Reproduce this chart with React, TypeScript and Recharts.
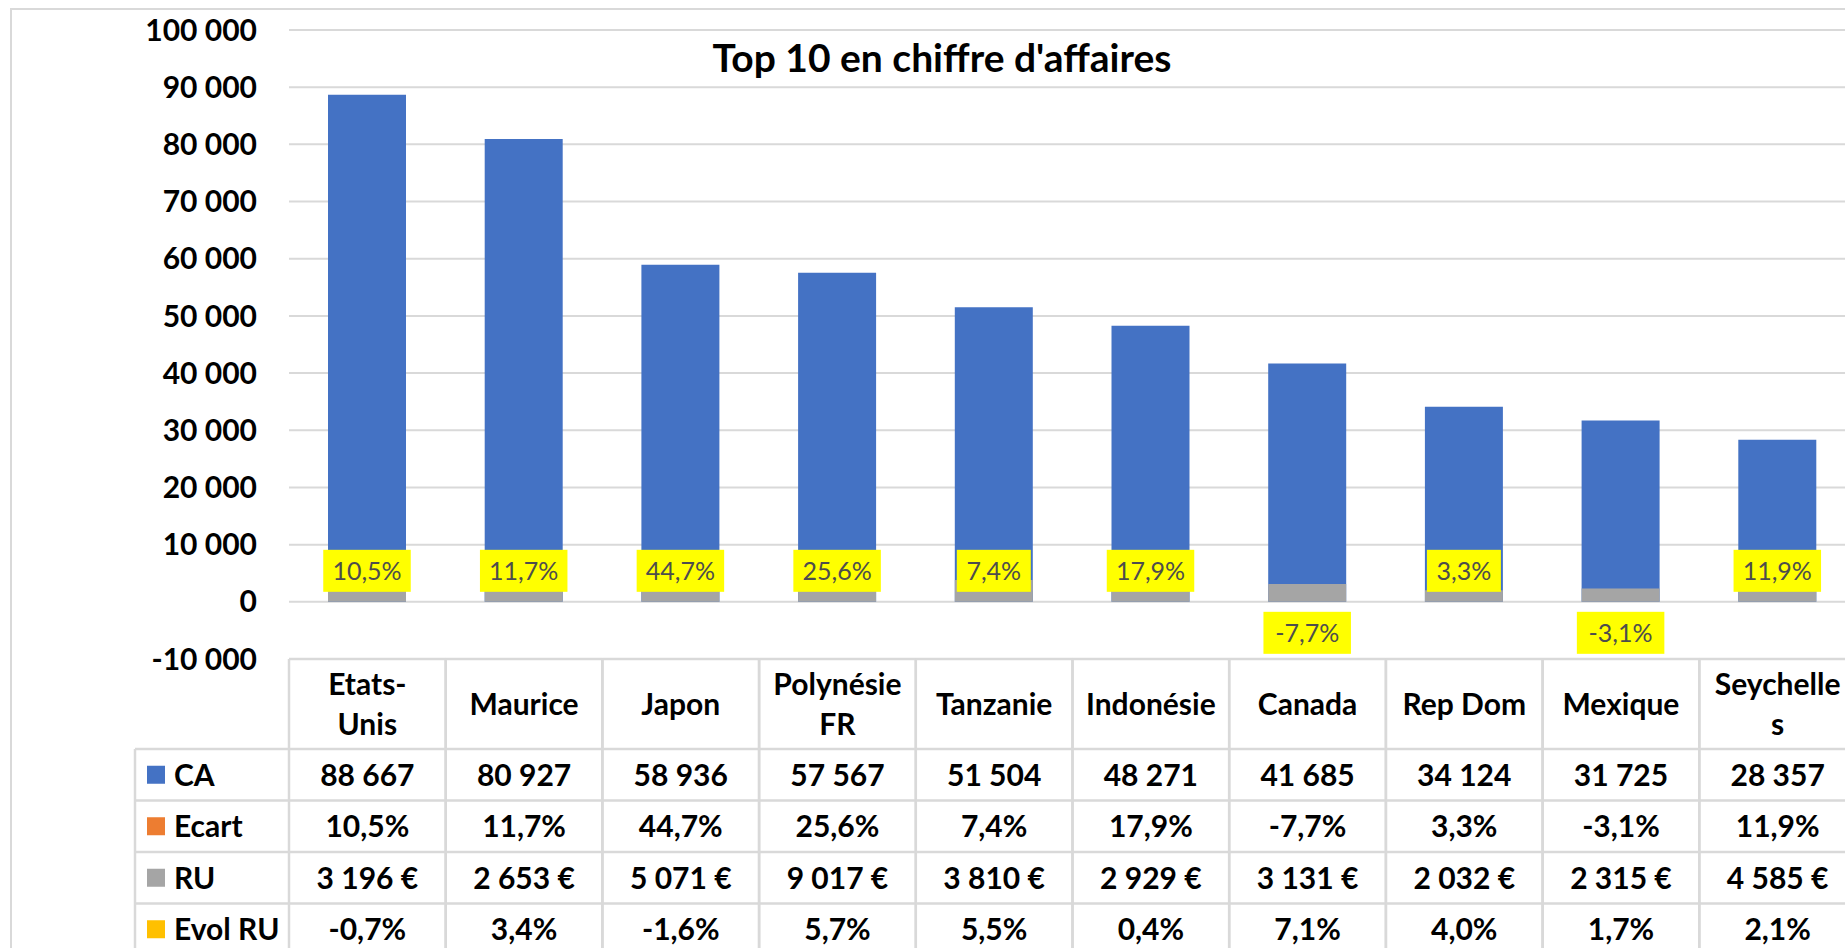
import React from 'react';
import { BarChart, Bar, XAxis, YAxis, CartesianGrid, LabelList } from 'recharts';

const COUNTRIES = ['Etats-Unis', 'Maurice', 'Japon', 'Polynésie FR', 'Tanzanie', 'Indonésie', 'Canada', 'Rep Dom', 'Mexique', 'Seychelles'];
// header cells as Excel wrapped them
const HEADER_LINES = [['Etats-', 'Unis'], ['Maurice'], ['Japon'], ['Polynésie', 'FR'], ['Tanzanie'], ['Indonésie'], ['Canada'], ['Rep Dom'], ['Mexique'], ['Seychelle', 's']];
const CA = [88667, 80927, 58936, 57567, 51504, 48271, 41685, 34124, 31725, 28357];
const ECART = [0.105, 0.117, 0.447, 0.256, 0.074, 0.179, -0.077, 0.033, -0.031, 0.119];
const RU = [3196, 2653, 5071, 9017, 3810, 2929, 3131, 2032, 2315, 4585];
const EVOL_RU = [-0.007, 0.034, -0.016, 0.057, 0.055, 0.004, 0.071, 0.04, 0.017, 0.021];
const Y_TICKS = [-10000, 0, 10000, 20000, 30000, 40000, 50000, 60000, 70000, 80000, 90000, 100000];

const SERIES = [
  { key: 'ca', label: 'CA', color: '#4472C4' },
  { key: 'ecart', label: 'Ecart', color: '#ED7D31' },
  { key: 'ru', label: 'RU', color: '#A5A5A5' },
  { key: 'evol', label: 'Evol RU', color: '#FFC000' },
];

const data = COUNTRIES.map((name, i) => ({
  name,
  ca: CA[i],
  ecart: ECART[i],
  ru: RU[i],
  evol: EVOL_RU[i],
}));

// layout
const CHART_W = 1880;
const CHART_H = 960;
const PLOT_LEFT = 289;
const PLOT_RIGHT = 1856;
const PLOT_TOP = 30;
const PLOT_BOTTOM = 659;
const BAND = (PLOT_RIGHT - PLOT_LEFT) / COUNTRIES.length;
const HEADER_H = 90;
const ROW_H = 51.5;
const LEGEND_X = 135;
const LINE = '#d9d9d9';
const FONT = 'Lato, "Open Sans", sans-serif';

const fmtInt = (n: number) => String(Math.round(n)).replace(/\B(?=(\d{3})+(?!\d))/g, ' ');
const fmtPct = (v: number) => (v * 100).toFixed(1).replace('.', ',') + '%';

const rowText = (key: string, i: number) => {
  if (key === 'ca') return fmtInt(CA[i]);
  if (key === 'ecart') return fmtPct(ECART[i]);
  if (key === 'ru') return fmtInt(RU[i]) + ' €';
  return fmtPct(EVOL_RU[i]);
};

const TableColumn = (props: any) => {
  const { x, payload } = props;
  const i = payload.index;
  const top = PLOT_BOTTOM;
  const left = x - BAND / 2;
  const right = x + BAND / 2;
  const bottom = top + HEADER_H + SERIES.length * ROW_H;
  const lines = HEADER_LINES[i];
  const headerMid = top + HEADER_H / 2;
  const lineStep = 40;
  return (
    <g>
      <line x1={left} x2={left} y1={top} y2={bottom} stroke={LINE} strokeWidth={2.5} />
      <line x1={right} x2={right} y1={top} y2={bottom} stroke={LINE} strokeWidth={2.5} />
      <line x1={left} x2={right} y1={top} y2={top} stroke={LINE} strokeWidth={2.5} />
      {SERIES.map((s, k) => (
        <line key={s.key} x1={left} x2={right} y1={top + HEADER_H + k * ROW_H} y2={top + HEADER_H + k * ROW_H} stroke={LINE} strokeWidth={2.5} />
      ))}
      {lines.map((t, k) => (
        <text
          key={k}
          x={x}
          y={headerMid + (k - (lines.length - 1) / 2) * lineStep + 11}
          textAnchor="middle"
          fontSize={30}
          fontWeight={700}
          fill="#000"
        >
          {t}
        </text>
      ))}
      {SERIES.map((s, k) => (
        <text
          key={s.key}
          x={x}
          y={top + HEADER_H + k * ROW_H + ROW_H / 2 + 11}
          textAnchor="middle"
          fontSize={30}
          fontWeight={700}
          fill="#000"
        >
          {rowText(s.key, i)}
        </text>
      ))}
      {i === 0 && (
        <g>
          <line x1={LEGEND_X} x2={left} y1={top + HEADER_H} y2={top + HEADER_H} stroke={LINE} strokeWidth={2.5} />
          <line x1={LEGEND_X} x2={LEGEND_X} y1={top + HEADER_H} y2={bottom} stroke={LINE} strokeWidth={2.5} />
          {SERIES.map((s, k) => {
            const rowTop = top + HEADER_H + k * ROW_H;
            return (
              <g key={s.key}>
                <line x1={LEGEND_X} x2={left} y1={rowTop + ROW_H} y2={rowTop + ROW_H} stroke={LINE} strokeWidth={2.5} />
                <rect x={147} y={rowTop + ROW_H / 2 - 9} width={18} height={18} fill={s.color} />
                <text x={174} y={rowTop + ROW_H / 2 + 11} fontSize={30} fontWeight={700} fill="#000">
                  {s.label}
                </text>
              </g>
            );
          })}
        </g>
      )}
    </g>
  );
};

const EcartLabel = (props: any) => {
  const { x, y, width, height, value } = props;
  if (x == null || value == null) return null;
  const zeroY = value >= 0 ? y + height : y;
  const txt = fmtPct(value);
  const w = txt.length * 13.5 + 20;
  const h = 42;
  const cx = x + width / 2;
  const boxTop = value >= 0 ? zeroY - 10 - h : zeroY + 10;
  return (
    <g>
      <rect x={cx - w / 2} y={boxTop} width={w} height={h} fill="#FFFF00" />
      <text x={cx} y={boxTop + h / 2 + 9} textAnchor="middle" fontSize={25} fill="#4d4d4d">
        {txt}
      </text>
    </g>
  );
};

const App = () => {
  return (
    <div
      style={{
        position: 'fixed',
        left: 0,
        top: 0,
        width: 1845,
        height: 948,
        overflow: 'hidden',
        background: '#fff',
        fontFamily: FONT,
      }}
    >
      <div
        style={{
          position: 'absolute',
          left: 10,
          top: 8,
          width: 2000,
          height: 1000,
          borderLeft: `2px solid ${LINE}`,
          borderTop: `2px solid ${LINE}`,
        }}
      />
      <div
        style={{
          position: 'absolute',
          left: 542,
          top: 38,
          width: 800,
          height: 38,
          lineHeight: '38px',
          textAlign: 'center',
          fontSize: 39,
          fontWeight: 700,
          color: '#000',
          zIndex: 2,
        }}
      >
        Top 10 en chiffre d'affaires
      </div>
      <div style={{ position: 'absolute', left: 0, top: 0 }}>
        <BarChart
          width={CHART_W}
          height={CHART_H}
          data={data}
          margin={{ top: PLOT_TOP, right: CHART_W - PLOT_RIGHT, left: 0, bottom: 0 }}
          barSize={78}
          barGap={-78}
        >
          <CartesianGrid vertical={false} stroke={LINE} strokeWidth={2} />
          <XAxis
            dataKey="name"
            height={CHART_H - PLOT_BOTTOM}
            axisLine={false}
            tickLine={false}
            tickSize={0}
            tickMargin={0}
            interval={0}
            tick={(p: any) => <TableColumn {...p} />}
          />
          <YAxis
            width={PLOT_LEFT}
            domain={[-10000, 100000]}
            ticks={Y_TICKS}
            interval={0}
            axisLine={false}
            tickLine={false}
            tickSize={0}
            tickMargin={32}
            tickFormatter={(v: number) => fmtInt(v)}
            tick={{ fontSize: 30, fontWeight: 700, fill: '#000' }}
          />
          <Bar dataKey="ca" fill="#4472C4" isAnimationActive={false} />
          <Bar dataKey="ru" fill="#A5A5A5" isAnimationActive={false} />
          <Bar dataKey="evol" fill="#FFC000" isAnimationActive={false} />
          <Bar dataKey="ecart" fill="#ED7D31" isAnimationActive={false}>
            <LabelList dataKey="ecart" content={(p: any) => <EcartLabel {...p} />} />
          </Bar>
        </BarChart>
      </div>
    </div>
  );
};

export default App;
